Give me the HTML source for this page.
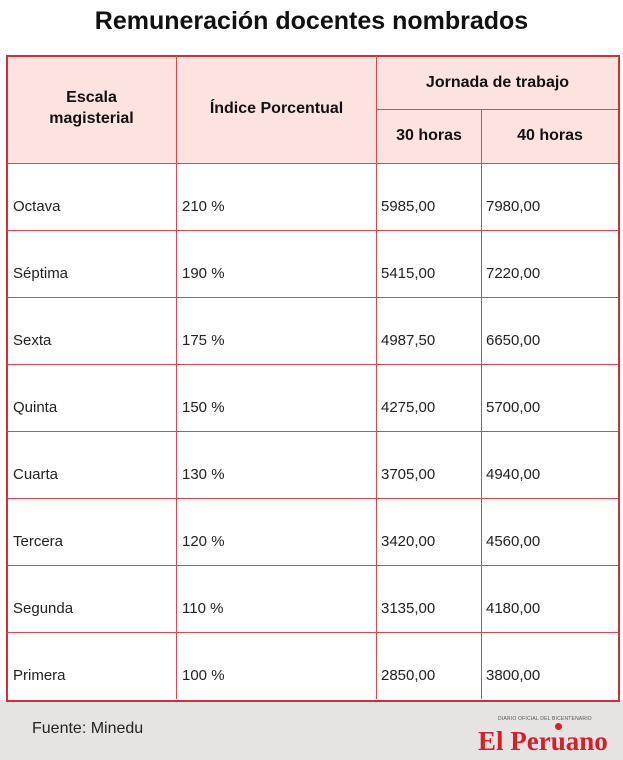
<!DOCTYPE html>
<html><head><meta charset="utf-8"><style>
body{margin:0;width:623px;height:760px;background:#fff;position:relative;font-family:"Liberation Sans",Arial,sans-serif;overflow:hidden}
.a{position:absolute}
.t{left:0;width:623px;top:7px;text-align:center;font-weight:bold;font-size:25px;color:#111}
.h{font-weight:bold;font-size:16px;color:#111;text-align:center}
.c{font-size:15px;color:#222}
.vl{background:#d9474f;width:1px}
.hl{background:#d9474f;height:1px}
</style></head><body>
<div class="a t">Remuneración docentes nombrados</div>
<div class="a" style="left:0;top:700px;width:623px;height:60px;background:#e6e4e3"></div>
<div class="a" style="left:7px;top:56px;width:612px;height:107px;background:#fde3e0"></div>
<div class="a" style="left:6px;top:55px;width:610px;height:643px;border:2px solid #c9313b"></div>
<div class="a vl" style="left:176px;top:56px;height:643px"></div>
<div class="a vl" style="left:376px;top:56px;height:643px"></div>
<div class="a vl" style="left:481px;top:109px;height:590px"></div>
<div class="a hl" style="left:376px;top:109px;width:242px"></div>
<div class="a hl" style="left:7px;top:163px;width:611px"></div>
<div class="a hl" style="left:7px;top:230px;width:611px"></div>
<div class="a hl" style="left:7px;top:297px;width:611px"></div>
<div class="a hl" style="left:7px;top:364px;width:611px"></div>
<div class="a hl" style="left:7px;top:431px;width:611px"></div>
<div class="a hl" style="left:7px;top:498px;width:611px"></div>
<div class="a hl" style="left:7px;top:565px;width:611px"></div>
<div class="a hl" style="left:7px;top:632px;width:611px"></div>
<div class="a h" style="left:7px;width:169px;top:87px;line-height:21px">Escala<br>magisterial</div>
<div class="a h" style="left:177px;width:199px;top:100px">Índice Porcentual</div>
<div class="a h" style="left:377px;width:241px;top:74px">Jornada de trabajo</div>
<div class="a h" style="left:377px;width:104px;top:127px">30 horas</div>
<div class="a h" style="left:482px;width:136px;top:127px">40 horas</div>
<div class="a c" style="left:13px;top:198px">Octava</div><div class="a c" style="left:182px;top:198px">210 %</div><div class="a c" style="left:381px;top:198px">5985,00</div><div class="a c" style="left:486px;top:198px">7980,00</div>
<div class="a c" style="left:13px;top:265px">Séptima</div><div class="a c" style="left:182px;top:265px">190 %</div><div class="a c" style="left:381px;top:265px">5415,00</div><div class="a c" style="left:486px;top:265px">7220,00</div>
<div class="a c" style="left:13px;top:332px">Sexta</div><div class="a c" style="left:182px;top:332px">175 %</div><div class="a c" style="left:381px;top:332px">4987,50</div><div class="a c" style="left:486px;top:332px">6650,00</div>
<div class="a c" style="left:13px;top:399px">Quinta</div><div class="a c" style="left:182px;top:399px">150 %</div><div class="a c" style="left:381px;top:399px">4275,00</div><div class="a c" style="left:486px;top:399px">5700,00</div>
<div class="a c" style="left:13px;top:466px">Cuarta</div><div class="a c" style="left:182px;top:466px">130 %</div><div class="a c" style="left:381px;top:466px">3705,00</div><div class="a c" style="left:486px;top:466px">4940,00</div>
<div class="a c" style="left:13px;top:533px">Tercera</div><div class="a c" style="left:182px;top:533px">120 %</div><div class="a c" style="left:381px;top:533px">3420,00</div><div class="a c" style="left:486px;top:533px">4560,00</div>
<div class="a c" style="left:13px;top:600px">Segunda</div><div class="a c" style="left:182px;top:600px">110 %</div><div class="a c" style="left:381px;top:600px">3135,00</div><div class="a c" style="left:486px;top:600px">4180,00</div>
<div class="a c" style="left:13px;top:667px">Primera</div><div class="a c" style="left:182px;top:667px">100 %</div><div class="a c" style="left:381px;top:667px">2850,00</div><div class="a c" style="left:486px;top:667px">3800,00</div>
<div class="a" style="left:32px;top:720px;font-size:16px;color:#222">Fuente: Minedu</div>
<div class="a" style="left:498px;top:716px;font-size:5px;color:#555;letter-spacing:0.2px">DIARIO OFICIAL DEL BICENTENARIO</div>
<div class="a" style="left:555px;top:723px;width:7px;height:7px;border-radius:50%;background:#d4202a"></div>
<div class="a" style="left:478px;top:727px;font-family:'Liberation Serif',serif;font-weight:bold;font-size:27px;color:#d4202a;line-height:28px">El Peruano</div>
</body></html>
